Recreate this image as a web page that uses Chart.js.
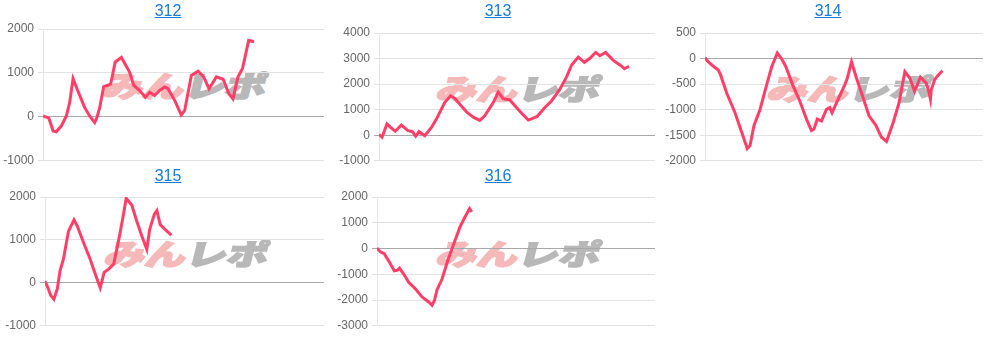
<!DOCTYPE html>
<html>
<head>
<meta charset="utf-8">
<script src="https://cdn.jsdelivr.net/npm/chart.js@4"></script>
<style>
  body { margin: 0; background: #fff; width: 991px; height: 337px; overflow: hidden; }
  .cell { position: absolute; width: 330px; }
  .cell a { position: absolute; left: 0; width: 336px; text-align: center; font: 16px "Liberation Sans", Arial, sans-serif; color: #1a7bd6; text-decoration: underline; }
  .cell canvas { position: absolute; left: 0; top: 0; }
  .mark { position: absolute; height: 34px; font: 900 34px "Noto Sans CJK JP", sans-serif; line-height: 34px; white-space: nowrap; transform-origin: left center; transform: skewX(-14deg) scale(1.2, 0.85); }
  .mark .p { color: #f5b9b9; -webkit-text-stroke: 2px #f5b9b9; }
  .mark .g { color: #b8b8b8; -webkit-text-stroke: 2px #b8b8b8; }
</style>
</head>
<body>
<script>
// x position (0..100 of the day's axis) and balance per machine
const x312 = [0, 2.1, 3.6, 4.7, 6.5, 8.3, 9.5, 10.7, 12.1, 14.8, 16.6, 18.4, 19.2, 20.2, 21.6, 23.1, 24.1, 25.7, 27.9, 29.4, 30.8, 32.3, 34.4, 36.4, 38, 39.7, 41.5, 43.3, 44.5, 46.9, 49.2, 50.4, 52.8, 55.2, 57.2, 59.1, 61.7, 64.1, 66.2, 67.6, 69.4, 71, 73.2, 75.1];
const y312 = [20, -30, -320, -340, -210, 20, 330, 870, 640, 215, 20, -130, -15, 215, 690, 720, 750, 1250, 1350, 1180, 1020, 715, 600, 445, 560, 485, 600, 680, 640, 370, 45, 140, 945, 1040, 910, 640, 910, 855, 520, 410, 910, 1100, 1740, 1710];

const x313 = [0, 1.1, 2.9, 4.2, 5.9, 8.1, 10.5, 12.1, 13.3, 14.5, 16.6, 19, 20.8, 23.8, 25.9, 27.4, 29.6, 31.9, 34.3, 36.5, 38.3, 41.4, 43.2, 45, 47.4, 49.8, 52, 54.1, 55.9, 57.3, 60.1, 62.5, 65.5, 68, 69.8, 72.2, 74.4, 76.4, 78.5, 80, 82.1, 84.9, 87.9, 88.9, 90.6];
const y313 = [25, -80, 440, 310, 155, 400, 180, 140, -40, 140, -15, 310, 630, 1280, 1540, 1450, 1175, 890, 700, 580, 760, 1280, 1690, 1430, 1380, 1085, 825, 595, 670, 735, 1085, 1340, 1795, 2290, 2750, 3060, 2855, 3010, 3240, 3110, 3240, 2930, 2700, 2600, 2700];

const x314 = [0, 1.2, 3, 4.8, 5.6, 7.8, 10.8, 13.2, 15.2, 16.2, 17.6, 19.8, 22.2, 24, 26, 27.5, 29.1, 31.5, 34.1, 36.5, 38.3, 39.2, 40.4, 41.9, 43.7, 44.9, 45.7, 47.3, 50.3, 51.1, 52.7, 54.5, 56.9, 59, 61.4, 63.5, 65.3, 67.7, 69.8, 71.9, 73.7, 75.4, 77.5, 79.6, 80.6, 81.1, 81.4, 82.6, 83.5, 85.4];
const y314 = [15, -65, -150, -225, -320, -675, -1060, -1440, -1760, -1700, -1315, -995, -510, -160, 110, 0, -160, -510, -830, -1185, -1410, -1380, -1185, -1220, -995, -960, -1060, -865, -510, -400, -65, -385, -770, -1120, -1300, -1540, -1620, -1250, -865, -255, -385, -640, -365, -480, -670, -800, -610, -415, -350, -240];

const x315 = [0, 1.2, 2, 3.2, 4.4, 5.4, 6.6, 8.4, 10.4, 11.6, 13.8, 16.2, 18.2, 19.8, 21.2, 22.8, 24.6, 26.3, 27.9, 29.1, 31.1, 32.9, 34.7, 36.5, 37.5, 39.2, 40.1, 41.3, 43.1, 45.3];
const y315 = [40, -140, -290, -380, -140, 285, 550, 1200, 1470, 1320, 940, 550, 170, -115, 245, 320, 435, 960, 1510, 1970, 1815, 1435, 1090, 780, 1240, 1600, 1685, 1355, 1240, 1110];

const x316 = [0, 1.2, 2.6, 4.2, 6.2, 7.4, 8.1, 9.6, 11.4, 13.8, 16.2, 18.6, 19.8, 20.7, 21.6, 23.4, 25.4, 27.5, 29.9, 31.7, 33.3, 34.1];
const y316 = [25, -130, -200, -480, -865, -840, -760, -990, -1310, -1565, -1880, -2075, -2200, -2010, -1600, -1185, -485, 150, 850, 1235, 1550, 1425];

const charts = [
  { name: '312', xs: x312, ys: y312, min: -1000, max: 2000, step: 1000, left: 0,   top: 0,   h: 172, axisW: 43, pad: { top: 29, bottom: 5, right: 6 }, mark: [104, 68] },
  { name: '313', xs: x313, ys: y313, min: -1000, max: 4000, step: 1000, left: 330, top: 0,   h: 172, axisW: 49, pad: { top: 33, bottom: 3, right: 5 }, mark: [108, 71] },
  { name: '314', xs: x314, ys: y314, min: -2000, max: 500,  step: 500,  left: 660, top: 0,   h: 172, axisW: 45, pad: { top: 33, bottom: 3, right: 7 }, mark: [109, 71] },
  { name: '315', xs: x315, ys: y315, min: -1000, max: 2000, step: 1000, left: 0,   top: 165, h: 172, axisW: 45, pad: { top: 32, bottom: 2, right: 6 }, mark: [106, 71] },
  { name: '316', xs: x316, ys: y316, min: -3000, max: 2000, step: 1000, left: 330, top: 165, h: 172, axisW: 47, pad: { top: 32, bottom: 2, right: 5 }, mark: [108, 71] }
];

charts.forEach(c => {
  const cell = document.createElement('div');
  cell.className = 'cell';
  cell.style.left = c.left + 'px';
  cell.style.top = c.top + 'px';
  cell.style.height = c.h + 'px';
  cell.innerHTML =
    '<div class="mark" style="left:' + c.mark[0] + 'px;top:' + c.mark[1] + 'px"><span class="p">みん</span><span class="g">レポ</span></div>' +
    '<canvas width="330" height="' + c.h + '"></canvas>' +
    '<a href="#" style="top:2px">' + c.name + '</a>';
  document.body.appendChild(cell);

  new Chart(cell.querySelector('canvas'), {
    type: 'line',
    data: {
      datasets: [{
        data: c.xs.map((x, i) => ({ x: x, y: c.ys[i] })),
        borderColor: '#ff3f68',
        borderWidth: 3,
        pointRadius: 0,
        tension: 0,
        fill: false
      }]
    },
    options: {
      responsive: false,
      animation: false,
      layout: { padding: { left: 0, top: c.pad.top, bottom: c.pad.bottom, right: c.pad.right } },
      plugins: { legend: { display: false }, tooltip: { enabled: false } },
      scales: {
        x: { type: 'linear', min: 0, max: 100, display: false },
        y: {
          min: c.min, max: c.max,
          afterFit: s => { s.width = c.axisW; },
          ticks: {
            stepSize: c.step, color: '#666', padding: 4,
            font: { family: 'Liberation Sans, Arial', size: 12 },
            callback: v => String(v)
          },
          grid: {
            color: ctx => ctx.tick && ctx.tick.value === 0 ? '#a8a8a8' : '#e3e3e3',
            tickLength: 5
          },
          border: { color: '#e6e6e6' }
        }
      }
    }
  });
});
</script>
</body>
</html>
